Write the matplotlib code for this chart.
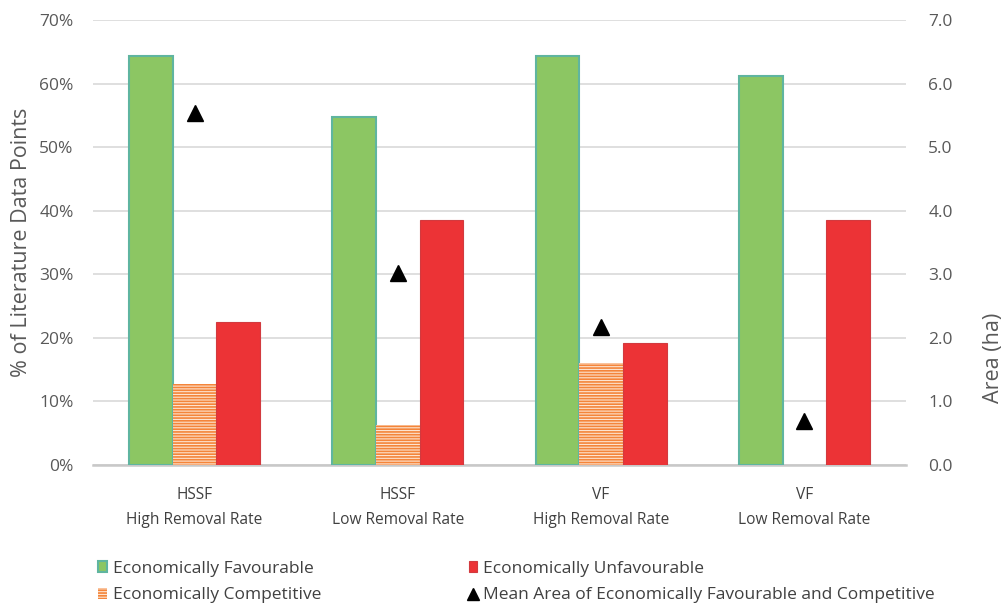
import matplotlib.pyplot as plt
import numpy as np

plt.rcParams['font.family'] = ['Open Sans', 'DejaVu Sans']
plt.rcParams['hatch.linewidth'] = 1.2

categories = ['HSSF\nHigh Removal Rate', 'HSSF\nLow Removal Rate',
              'VF\nHigh Removal Rate', 'VF\nLow Removal Rate']
favourable = [64.4, 54.8, 64.4, 61.2]
competitive = [12.8, 6.3, 16.0, 0.0]
unfavourable = [22.5, 38.6, 19.2, 38.6]
mean_area = [5.54, 3.02, 2.17, 0.69]

pct_ticks = [0, 10, 20, 30, 40, 50, 60, 70]
area_ticks = [0, 1, 2, 3, 4, 5, 6, 7]

grey = '#595959'
fig = plt.figure(figsize=(10.05, 6.04), dpi=100)
ax = fig.add_axes([0.0925, 0.230, 0.809, 0.737])

x = np.arange(len(categories))
w = 0.215
b1 = ax.bar(x - w, favourable, w, color='#8cc663', edgecolor='#5fb5a0', linewidth=1.5,
            label='Economically Favourable', zorder=3)
b2 = ax.bar(x, competitive, w, color='#fde3cf', edgecolor='#f4853a', hatch='------',
            linewidth=0, label='Economically Competitive', zorder=3)
b3 = ax.bar(x + w, unfavourable, w, color='#ec3336', edgecolor='#d23a3f', linewidth=0.8,
            label='Economically Unfavourable', zorder=3)

ax.set_xlim(-0.5, len(categories) - 0.5)
ax.set_ylim(0, 70)
ax.set_yticks(pct_ticks)
ax.set_yticklabels([f'{t}%' for t in pct_ticks])
ax.set_xticks(x)
ax.set_xticklabels(categories, linespacing=1.75)
ax.grid(axis='y', color='#d9d9d9', linewidth=1.2, zorder=0)
for s in ['top', 'left', 'right']:
    ax.spines[s].set_visible(False)
ax.spines['bottom'].set_color('#c8c8c8')
ax.spines['bottom'].set_linewidth(1.8)
ax.tick_params(axis='x', length=0, labelsize=11.2, labelcolor='#404040', pad=16)
ax.tick_params(axis='y', length=0, labelsize=12.5, labelcolor=grey, pad=14)
ax.set_ylabel('% of Literature Data Points', fontsize=15.5, color=grey)
ax.yaxis.set_label_coords(-0.075, 0.5)

ax2 = ax.twinx()
ax2.set_ylim(0, 7)
ax2.set_yticks(area_ticks)
ax2.set_yticklabels([f'{t:.1f}' for t in area_ticks])
for s in ax2.spines.values():
    s.set_visible(False)
ax2.tick_params(axis='y', length=0, labelsize=12.5, labelcolor=grey, pad=16)
m = ax2.plot(x, mean_area, linestyle='none', marker='^', markersize=11, color='black',
             label='Mean Area of Economically Favourable and Competitive', zorder=5)[0]
ax2.set_ylabel('Area (ha)', fontsize=15.5, color=grey)
ax2.yaxis.set_label_coords(1.095, 0.24)

fig.legend([b1, b2, b3, m],
           ['Economically Favourable', 'Economically Competitive',
            'Economically Unfavourable', 'Mean Area of Economically Favourable and Competitive'],
           ncol=2, loc='lower left', bbox_to_anchor=(0.082, -0.025), frameon=False,
           fontsize=12.5, handlelength=0.5, handleheight=0.6, handletextpad=0.35,
           columnspacing=8.5, labelspacing=0.6, labelcolor='#404040', markerscale=0.75)

fig.savefig('out.png', dpi=100)
